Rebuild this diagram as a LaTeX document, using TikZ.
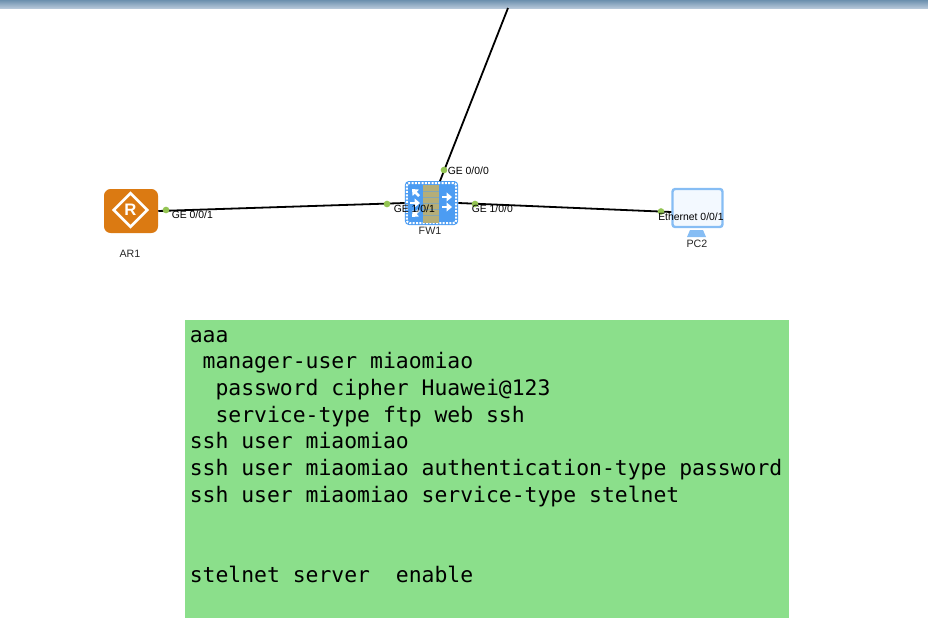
\documentclass[tikz,border=0pt]{standalone}
\usepackage{fontspec}
\setmainfont{Liberation Sans}
\newfontfamily\cfgfont{DejaVu Sans Mono}
\usetikzlibrary{arrows.meta,shapes.geometric}
\definecolor{barTop}{HTML}{6C90AE}
\definecolor{barBottom}{HTML}{B4C6D8}
\definecolor{arOrange}{HTML}{DB7A12}
\definecolor{fwBlue}{HTML}{4C9CF2}
\definecolor{fwCore}{HTML}{B5AE78}
\definecolor{pcBlue}{HTML}{86BDF4}
\definecolor{pcFill}{HTML}{F3F9FF}
\definecolor{portGreen}{HTML}{93C452}
\definecolor{cfgGreen}{HTML}{8BDF8B}
\tikzset{
  link/.style={black, line width=1.35pt},
  port/.style={circle, fill=portGreen, inner sep=0pt, minimum size=5pt},
  portlabel/.style={font=\fontsize{7.8}{9}\selectfont, inner sep=0pt, text=black},
  devlabel/.style={font=\fontsize{8}{9}\selectfont, inner sep=0pt, text=black!85},
  router/.style={rectangle, rounded corners=5pt, fill=arOrange, minimum width=40.5pt, minimum height=33pt, inner sep=0pt},
  firewall/.style={rectangle, rounded corners=3pt, fill=fwBlue, minimum width=40pt, minimum height=33pt, inner sep=0pt},
  monitor/.style={rectangle, rounded corners=2pt, draw=pcBlue, line width=1.8pt, fill=pcFill, minimum width=37.5pt, minimum height=28.5pt, inner sep=0pt},
  fwarrow/.style={white, line width=2pt, -{Triangle[length=4pt,width=6.5pt]}},
  cfgbox/.style={rectangle, fill=cfgGreen, minimum width=453pt, minimum height=223.5pt, inner sep=0pt},
  cfgtext/.style={align=left, inner sep=0pt, font=\cfgfont\fontsize{16.05}{20}\selectfont, text=black}
}
\begin{document}
\begin{tikzpicture}[x=0.75pt, y=-0.75pt]
    \useasboundingbox (0,0) rectangle (928,629);
    % Window bar at the top
    \shade[top color=barTop, bottom color=barBottom] (0,0) rectangle (928,8);
    % Devices
    \node[router] (ar1) at (131,211) {};
    \node[diamond, draw=white, line width=2pt, minimum width=26pt, minimum height=26pt, inner sep=0pt] (ar1mark) at (130.5,210) {};
    \node[inner sep=0pt, text=white, font=\bfseries\fontsize{12.5}{13}\selectfont] (ar1r) at (130.5,210) {R};
    \node[firewall] (fw1) at (431.5,203) {};
    \node[rectangle, draw=white, densely dotted, line width=1.5pt, rounded corners=2pt, minimum width=37pt, minimum height=30pt, inner sep=0pt] (fw1edge) at (431.5,203) {};
    \node[rectangle, fill=fwCore, minimum width=12pt, minimum height=29pt, inner sep=0pt] (fw1core) at (431,204) {};
    % Bands on the firewall core
    \foreach \y in {191,197,203,209,215} {
      \draw[fwBlue!45!fwCore, line width=0.7pt] (423,\y) -- (439,\y);
    }
    % Arrows on the firewall
    \foreach \y in {197,207} {
      \draw[fwarrow] (442,\y) -- (452,\y);
    }
    \draw[fwarrow] (419,196) -- (412,189);
    \draw[fwarrow] (410,203) -- (420,203);
    \draw[fwarrow] (419,210) -- (412,217);
    \node[monitor] (pc2) at (697.5,208) {};
    \fill[pcBlue] (690,230) -- (703,230) -- (706,237) -- (687,237) -- cycle;
    % Links
    \coordinate (cloud) at (508,8);
    \coordinate (fw1top) at (440,181);
    \draw[link] (ar1.east) -- (fw1.west);
    \draw[link] (fw1.east) -- ([yshift=-3pt]pc2.west);
    \draw[link] (fw1top) -- (cloud);
    % Ports
    \node[port] (p1) at (166,210) {};
    \node[port] (p2) at (387,204) {};
    \node[port] (p3) at (444,170) {};
    \node[port] (p4) at (475,204) {};
    \node[port] (p5) at (661,211.5) {};
    % Port labels
    \node[portlabel, anchor=west] (l1) at (171.5,215) {GE 0/0/1};
    \node[portlabel, anchor=west] (l2) at (393.5,209) {GE 1/0/1};
    \node[portlabel, anchor=west] (l3) at (447.5,171) {GE 0/0/0};
    \node[portlabel, anchor=west] (l4) at (471.5,209) {GE 1/0/0};
    \node[portlabel, anchor=west] (l5) at (658,217) {Ethernet 0/0/1};
    % Device names
    \node[devlabel] (ar1name) at (130,254) {AR1};
    \node[devlabel] (fw1name) at (430,231) {FW1};
    \node[devlabel] (pc2name) at (697,244) {PC2};
    % Config box
    \node[cfgbox, anchor=north west] (cfg) at (185,320) {};
    \node[cfgtext, anchor=north west] (cfgtxt) at (189.5,330) {aaa\\
\ manager-user miaomiao\\
\ \ password cipher Huawei@123\\
\ \ service-type ftp web ssh\\
ssh user miaomiao\\
ssh user miaomiao authentication-type password\\
ssh user miaomiao service-type stelnet\\
~\\
~\\
stelnet server\ \ enable};
  \end{tikzpicture}
\end{document}
